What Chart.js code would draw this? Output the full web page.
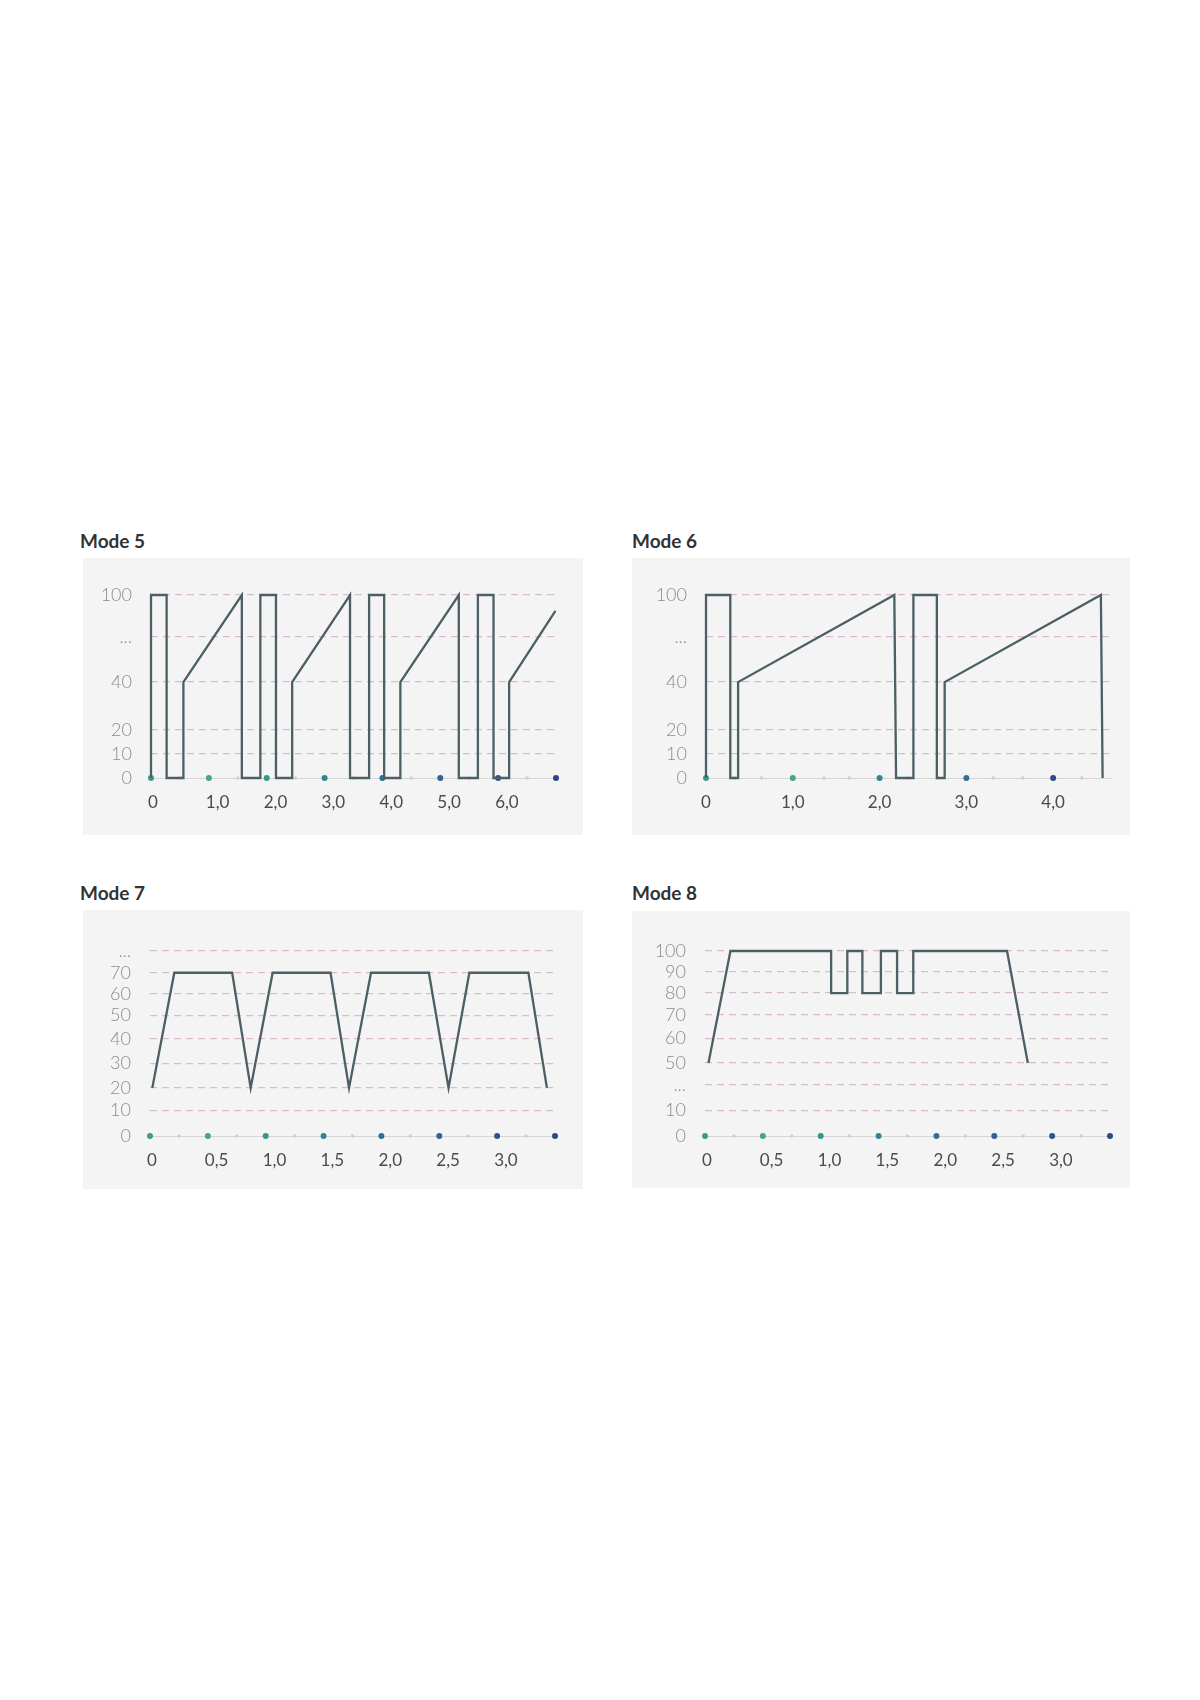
<!DOCTYPE html>
<html>
<head>
<meta charset="utf-8">
<script src="https://cdn.jsdelivr.net/npm/chart.js@4.4.1/dist/chart.umd.min.js"></script>
<style>
  body { margin: 0; background: #fff; width: 1200px; height: 1700px; position: relative; font-family: Lato, sans-serif; }
  .title { position: absolute; font-weight: 700; font-size: 19px; line-height: 1; color: #333; }
  .panel { position: absolute; background: #f5f4f5; }
  .panel canvas { display: block; }
</style>
</head>
<body>

<div class="title" style="left:80px; top:531px">Mode 5</div>
<div class="panel" style="left:83px; top:558px; width:500px; height:277px"><canvas id="mode5" width="500" height="277"></canvas></div>

<div class="title" style="left:632px; top:531px">Mode 6</div>
<div class="panel" style="left:632px; top:558px; width:498px; height:277px"><canvas id="mode6" width="498" height="277"></canvas></div>

<div class="title" style="left:80px; top:883px">Mode 7</div>
<div class="panel" style="left:83px; top:910px; width:500px; height:279px"><canvas id="mode7" width="500" height="279"></canvas></div>

<div class="title" style="left:632px; top:883px">Mode 8</div>
<div class="panel" style="left:632px; top:911px; width:498px; height:277px"><canvas id="mode8" width="498" height="277"></canvas></div>

<script>
// Mode 5 - power profile (time, %)
const mode5Time = [0, 0, 0.27, 0.27, 0.56, 0.56, 1.57, 1.57, 1.89, 1.89, 2.16, 2.16, 2.44, 2.44, 3.44, 3.44, 3.77, 3.77, 4.03, 4.03, 4.31, 4.31, 5.32, 5.32, 5.65, 5.65, 5.92, 5.92, 6.19, 6.19, 6.99]
const mode5Power = [0, 100, 100, 0, 0, 40, 100, 0, 0, 100, 100, 0, 0, 40, 100, 0, 0, 100, 100, 0, 0, 40, 100, 0, 0, 100, 100, 0, 0, 40, 89]
const mode5XTicks = [0, 1, 2, 3, 4, 5, 6, 7]
const mode5XLabels = ['0', '1,0', '2,0', '3,0', '4,0', '5,0', '6,0', '']
const mode5MinorDots = [0.5, 1.5, 2.5, 3.5, 4.5, 5.5, 6.5]

// Mode 6
const mode6Time = [0, 0, 0.28, 0.28, 0.37, 0.37, 2.17, 2.19, 2.39, 2.39, 2.66, 2.66, 2.75, 2.75, 4.55, 4.57]
const mode6Power = [0, 100, 100, 0, 0, 40, 100, 0, 0, 100, 100, 0, 0, 40, 100, 0]
const mode6XTicks = [0, 1, 2, 3, 4]
const mode6XLabels = ['0', '1,0', '2,0', '3,0', '4,0']
const mode6MinorDots = [0.33, 0.64, 1.36, 1.65, 2.33, 2.67, 3.31, 3.65, 4.33]

// shared y ticks for mode 5 and 6 (axis is cut between 40 and 100)
const mode56YTicks = [0, 10, 20, 40, 71, 100]
const mode56YLabels = ['0', '10', '20', '40', '...', '100']

// Mode 7
const mode7Time = [0.02, 0.21, 0.71, 0.87, 1.06, 1.56, 1.72, 1.91, 2.41, 2.58, 2.76, 3.27, 3.43]
const mode7Power = [20, 70, 70, 20, 70, 70, 20, 70, 70, 20, 70, 70, 20]
const mode7YTicks = [0, 10, 20, 30, 40, 50, 60, 70, 80]
const mode7YLabels = ['0', '10', '20', '30', '40', '50', '60', '70', '...']

// Mode 8
const mode8Time = [0.03, 0.22, 1.09, 1.09, 1.23, 1.23, 1.36, 1.36, 1.52, 1.52, 1.66, 1.66, 1.8, 1.8, 2.61, 2.79]
const mode8Power = [50, 100, 100, 80, 80, 100, 100, 80, 80, 100, 100, 80, 80, 100, 100, 50]
const mode8YTicks = [0, 10, 30, 50, 60, 70, 80, 90, 100]
const mode8YLabels = ['0', '10', '...', '50', '60', '70', '80', '90', '100']

// x axis for mode 7 and 8
const mode78XTicks = [0, 0.5, 1, 1.5, 2, 2.5, 3, 3.5]
const mode78XLabels = ['0', '0,5', '1,0', '1,5', '2,0', '2,5', '3,0', '']
const mode78MinorDots = [0.25, 0.75, 1.25, 1.75, 2.25, 2.75, 3.25]

// styles
const lineColor = '#4b5f64'
const gridColor = '#d9bccb'
const dotColors8 = ['#3d9c85', '#45a584', '#33968f', '#2f8393', '#2e6f96', '#31619b', '#2f5290', '#2c478b']
const dotColors5 = ['#3d9c85', '#45a584', '#2f8894', '#2f7297', '#2d4a8b']

// piecewise axis (the y scales in the drawing are not evenly spaced)
function mapY(v, real, disp) {
  for (let i = 1; i < real.length; i++) {
    if (v <= real[i]) {
      return disp[i - 1] + (v - real[i - 1]) / (real[i] - real[i - 1]) * (disp[i] - disp[i - 1])
    }
  }
  return disp[disp.length - 1]
}

function makeChart(id, c) {
  const toY = v => mapY(v, c.yReal, c.yDisp)
  const lineData = c.time.map((t, i) => ({ x: t, y: toY(c.power[i]) }))

  new Chart(document.getElementById(id), {
    type: 'line',
    data: {
      datasets: [
        {
          data: lineData,
          borderColor: lineColor,
          borderWidth: 2.3,
          pointRadius: 0,
          tension: 0,
          clip: false,
          order: 0
        },
        {
          data: c.xTicks.map(t => ({ x: t, y: 0 })),
          showLine: false,
          pointRadius: 3,
          pointBorderWidth: 0,
          pointBackgroundColor: c.dotColors,
          clip: false,
          order: 1
        },
        {
          data: c.minor.map(t => ({ x: t, y: 0 })),
          showLine: false,
          pointRadius: 1.7,
          pointBorderWidth: 0,
          pointBackgroundColor: '#cfcfcf',
          clip: false,
          order: 2
        }
      ]
    },
    options: {
      responsive: false,
      animation: false,
      layout: { padding: { top: c.padTop, right: c.padRight, left: 0, bottom: 0 } },
      plugins: { legend: { display: false }, tooltip: { enabled: false } },
      scales: {
        x: {
          type: 'linear',
          min: 0,
          max: c.xMax,
          afterFit: s => { s.height = c.xAxisH },
          afterBuildTicks: s => { s.ticks = c.xTicks.map(v => ({ value: v })) },
          grid: { display: false, drawTicks: false },
          border: { display: true, color: '#d6d6d6', width: 1 },
          ticks: {
            autoSkip: false,
            maxRotation: 0,
            padding: 14,
            align: c.xAlign,
            labelOffset: c.xOffset,
            color: '#4a4a4a',
            font: { family: 'Lato', size: 17 },
            callback: (v, i) => c.xLabels[i]
          }
        },
        y: {
          type: 'linear',
          min: 0,
          max: c.yMax,
          afterFit: s => { s.width = c.yAxisW },
          afterBuildTicks: s => { s.ticks = c.yTicks.map(v => ({ value: toY(v) })) },
          grid: {
            drawTicks: false,
            lineWidth: 1.3,
            color: ctx => (ctx.tick && ctx.tick.value === 0) ? 'rgba(0,0,0,0)' : gridColor
          },
          border: { display: false, dash: [7, 5] },
          ticks: {
            autoSkip: false,
            padding: 19,
            color: '#8c8c8c',
            font: { family: 'Lato', size: 18, weight: '300' },
            callback: (v, i) => c.yLabels[i]
          }
        }
      }
    }
  })
}

makeChart('mode5', {
  time: mode5Time, power: mode5Power,
  xTicks: mode5XTicks, xLabels: mode5XLabels, minor: mode5MinorDots, dotColors: dotColors8,
  yTicks: mode56YTicks, yLabels: mode56YLabels,
  yReal: [0, 40, 100], yDisp: [0, 40, 76.3], yMax: 76.3, xMax: 7,
  padTop: 37, padRight: 27, yAxisW: 68, xAxisH: 57, xAlign: 'start', xOffset: -3
})

makeChart('mode6', {
  time: mode6Time, power: mode6Power,
  xTicks: mode6XTicks, xLabels: mode6XLabels, minor: mode6MinorDots, dotColors: dotColors5,
  yTicks: mode56YTicks, yLabels: mode56YLabels,
  yReal: [0, 40, 100], yDisp: [0, 40, 76.3], yMax: 76.3, xMax: 14 / 3,
  padTop: 37, padRight: 19, yAxisW: 74, xAxisH: 57, xAlign: 'center', xOffset: 0
})

makeChart('mode7', {
  time: mode7Time, power: mode7Power,
  xTicks: mode78XTicks, xLabels: mode78XLabels, minor: mode78MinorDots, dotColors: dotColors8,
  yTicks: mode7YTicks, yLabels: mode7YLabels,
  yReal: [0, 10, 20, 30, 40, 50, 60, 70, 80], yDisp: [0, 11.1, 20.8, 31.5, 41.9, 52.1, 61.5, 70.6, 80],
  yMax: 80, xMax: 3.5,
  padTop: 41, padRight: 28, yAxisW: 67, xAxisH: 53, xAlign: 'start', xOffset: -3
})

makeChart('mode8', {
  time: mode8Time, power: mode8Power,
  xTicks: mode78XTicks, xLabels: mode78XLabels, minor: mode78MinorDots, dotColors: dotColors8,
  yTicks: mode8YTicks, yLabels: mode8YLabels,
  yReal: [0, 10, 30, 50, 60, 70, 80, 90, 100], yDisp: [0, 11.1, 22.1, 31.6, 42.2, 52.4, 61.8, 70.9, 80],
  yMax: 80, xMax: 3.5,
  padTop: 40, padRight: 20, yAxisW: 73, xAxisH: 52, xAlign: 'start', xOffset: -3
})
</script>
</body>
</html>
